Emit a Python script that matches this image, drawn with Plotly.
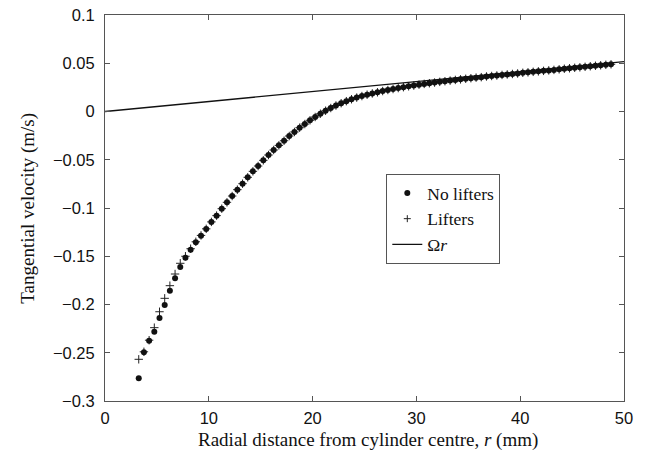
import plotly.graph_objects as go

# Radial positions (mm)
r_vals = [3.25 + 0.5 * i for i in range(92)]

no_lifters = [
    -0.2765, -0.2496, -0.2375, -0.2282, -0.2140, -0.2005, -0.1857, -0.1729,
    -0.1611, -0.1515, -0.1432, -0.1355, -0.1287, -0.1218, -0.1145, -0.1080,
    -0.1007, -0.0941, -0.0876, -0.0810, -0.0748, -0.0682, -0.0620, -0.0565,
    -0.0506, -0.0451, -0.0399, -0.0351, -0.0303, -0.0254, -0.0212, -0.0168,
    -0.0130, -0.0091, -0.0057, -0.0023, 0.0008, 0.0036, 0.0062, 0.0086,
    0.0107, 0.0127, 0.0144, 0.0160, 0.0174, 0.0187, 0.0199, 0.0212,
    0.0223, 0.0233, 0.0243, 0.0252, 0.0261, 0.0269, 0.0278, 0.0286,
    0.0293, 0.0300, 0.0307, 0.0314, 0.0320, 0.0327, 0.0333, 0.0339,
    0.0345, 0.0351, 0.0356, 0.0363, 0.0368, 0.0373, 0.0379, 0.0384,
    0.0389, 0.0394, 0.0401, 0.0406, 0.0411, 0.0416, 0.0421, 0.0426,
    0.0431, 0.0437, 0.0443, 0.0448, 0.0453, 0.0458, 0.0463, 0.0469,
    0.0474, 0.0479, 0.0484, 0.0489,
]

lifters = [
    -0.2568, -0.2490, -0.2370, -0.2240, -0.2075, -0.1936, -0.1805, -0.1684,
    -0.1573, -0.1500, -0.1422, -0.1350, -0.1284, -0.1216, -0.1144, -0.1079,
    -0.1007, -0.0941, -0.0876, -0.0810, -0.0748, -0.0682, -0.0620, -0.0565,
    -0.0506, -0.0451, -0.0399, -0.0351, -0.0303, -0.0254, -0.0212, -0.0168,
    -0.0130, -0.0091, -0.0057, -0.0023, 0.0008, 0.0036, 0.0062, 0.0086,
    0.0107, 0.0127, 0.0144, 0.0160, 0.0174, 0.0187, 0.0199, 0.0212,
    0.0223, 0.0233, 0.0243, 0.0252, 0.0261, 0.0269, 0.0278, 0.0286,
    0.0293, 0.0300, 0.0307, 0.0314, 0.0320, 0.0327, 0.0333, 0.0339,
    0.0345, 0.0351, 0.0356, 0.0363, 0.0368, 0.0373, 0.0379, 0.0384,
    0.0389, 0.0394, 0.0401, 0.0406, 0.0411, 0.0416, 0.0421, 0.0426,
    0.0431, 0.0437, 0.0443, 0.0448, 0.0453, 0.0458, 0.0463, 0.0469,
    0.0474, 0.0479, 0.0484, 0.0489,
]

# Solid-body rotation line endpoints
r_line = [0, 50]
omega_r = [0.0, 0.0516]

x_ticks = [0, 10, 20, 30, 40, 50]
y_ticks = [-0.3, -0.25, -0.2, -0.15, -0.1, -0.05, 0, 0.05, 0.1]
y_tick_text = ["\u22120.3", "\u22120.25", "\u22120.2", "\u22120.15", "\u22120.1",
               "\u22120.05", "0", "0.05", "0.1"]

SERIF = "Liberation Serif, Times New Roman, serif"
SANS = "Liberation Sans, Arial, sans-serif"

fig = go.Figure()
fig.add_trace(go.Scatter(
    x=r_vals, y=lifters, mode="markers", name="Lifters",
    marker=dict(symbol="cross-thin", size=6, line=dict(color="#222", width=1)),
    showlegend=False,
))
fig.add_trace(go.Scatter(
    x=r_vals, y=no_lifters, mode="markers", name="No lifters",
    marker=dict(symbol="circle", size=6, color="#111"),
))
# legend proxy for lifters (so order matches reference)
fig.add_trace(go.Scatter(
    x=[None], y=[None], mode="markers", name="Lifters",
    marker=dict(symbol="cross-thin", size=5, line=dict(color="#222", width=1)),
))
fig.add_trace(go.Scatter(
    x=r_line, y=omega_r, mode="lines", name="\u03a9<i>r</i>",
    line=dict(color="#111", width=1.3),
))

axis_common = dict(
    showline=True, linecolor="#555", linewidth=1, mirror="ticks",
    ticks="inside", ticklen=5, tickcolor="#555", showgrid=False, zeroline=False,
    tickfont=dict(family=SANS, size=16.5, color="#111"),
    ticklabeloverflow="allow",
)

fig.update_xaxes(
    range=[0, 50], tickvals=x_ticks, ticktext=[str(t) for t in x_ticks],
    ticklabelstandoff=2,
    **axis_common,
)
fig.update_yaxes(
    range=[-0.3, 0.1], tickvals=y_ticks, ticktext=y_tick_text,
    ticklabelstandoff=6,
    **axis_common,
)

fig.add_annotation(
    text="Radial distance from cylinder centre, <i>r</i> (mm)",
    xref="paper", yref="paper", x=0.506, y=-(440 - 401) / 386,
    xanchor="center", yanchor="middle", showarrow=False,
    font=dict(family=SERIF, size=19, color="#111"),
)
fig.add_annotation(
    text="Tangential velocity (m/s)",
    xref="paper", yref="paper", x=-0.149, y=0.5, textangle=-90,
    xanchor="center", yanchor="middle", showarrow=False,
    font=dict(family=SERIF, size=19, color="#111"),
)

fig.update_layout(
    width=646, height=452,
    margin=dict(l=104.5, r=22, t=15, b=51, autoexpand=False),
    paper_bgcolor="white", plot_bgcolor="white",
    showlegend=True,
    legend=dict(
        x=0.542, y=0.588, xanchor="left", yanchor="top",
        bgcolor="white", bordercolor="#555", borderwidth=1,
        font=dict(family=SERIF, size=17.5, color="#111"),
        itemwidth=30, tracegroupgap=0,
    ),
)

# remove the browser's default 8px body margin so the figure sits at the page origin
fig.write_html(
    "out.html",
    config={"displayModeBar": False},
    post_script="document.body.style.margin='0';document.body.style.overflow='hidden';",
)
